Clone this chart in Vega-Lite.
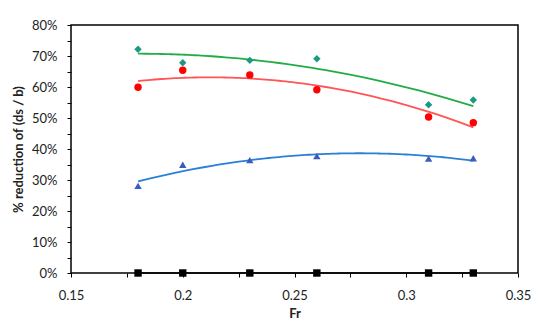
{
  "$schema": "https://vega.github.io/schema/vega-lite/v6.json",
  "autosize": {"type": "fit", "contains": "padding"},
  "width": 552,
  "height": 326,
  "padding": {"left": 12, "top": 19, "right": 21, "bottom": 6},
  "background": "white",
  "config": {
    "font": "Lato",
    "view": {"stroke": "black", "strokeWidth": 1.5},
    "axis": {
      "domain": false,
      "grid": false,
      "ticks": true,
      "labelFont": "Lato",
      "labelFontSize": 13,
      "labelColor": "#222",
      "tickColor": "black",
      "tickWidth": 1,
      "titleFont": "Lato",
      "titleFontSize": 13,
      "titleFontWeight": "bold",
      "titleColor": "#222"
    },
    "legend": {"labelFont": "Lato", "labelFontSize": 13, "labelColor": "#222"}
  },
  "data": {
    "values": [
      {"series": "without collar", "Fr": 0.18, "value": 0},
      {"series": "without collar", "Fr": 0.2, "value": 0},
      {"series": "without collar", "Fr": 0.23, "value": 0},
      {"series": "without collar", "Fr": 0.26, "value": 0},
      {"series": "without collar", "Fr": 0.31, "value": 0},
      {"series": "without collar", "Fr": 0.33, "value": 0},
      {"series": "sloped hexagonal", "Fr": 0.18, "value": 0.599},
      {"series": "sloped hexagonal", "Fr": 0.2, "value": 0.654},
      {"series": "sloped hexagonal", "Fr": 0.23, "value": 0.639},
      {"series": "sloped hexagonal", "Fr": 0.26, "value": 0.591},
      {"series": "sloped hexagonal", "Fr": 0.31, "value": 0.503},
      {"series": "sloped hexagonal", "Fr": 0.33, "value": 0.485},
      {"series": "sloped with holes hexagonal", "Fr": 0.18, "value": 0.281},
      {"series": "sloped with holes hexagonal", "Fr": 0.2, "value": 0.349},
      {"series": "sloped with holes hexagonal", "Fr": 0.23, "value": 0.364},
      {"series": "sloped with holes hexagonal", "Fr": 0.26, "value": 0.377},
      {"series": "sloped with holes hexagonal", "Fr": 0.31, "value": 0.369},
      {"series": "sloped with holes hexagonal", "Fr": 0.33, "value": 0.37},
      {"series": "sloped with ribs hexagonal", "Fr": 0.18, "value": 0.722},
      {"series": "sloped with ribs hexagonal", "Fr": 0.2, "value": 0.678},
      {"series": "sloped with ribs hexagonal", "Fr": 0.23, "value": 0.686},
      {"series": "sloped with ribs hexagonal", "Fr": 0.26, "value": 0.691},
      {"series": "sloped with ribs hexagonal", "Fr": 0.31, "value": 0.543},
      {"series": "sloped with ribs hexagonal", "Fr": 0.33, "value": 0.558}
    ]
  },
  "encoding": {
    "x": {
      "field": "Fr", "type": "quantitative",
      "scale": {"domain": [0.15, 0.35], "nice": false, "zero": false},
      "axis": {
        "title": "Fr",
        "values": [0.15, 0.175, 0.2, 0.225, 0.25, 0.275, 0.3, 0.325, 0.35],
        "labelExpr": "abs(datum.value*20 - round(datum.value*20)) < 0.01 ? format(datum.value, '.2~f') : ''",
        "labelOverlap": false,
        "labelFlush": false,
        "tickSize": 4,
        "labelPadding": 12,
        "titlePadding": 5
      }
    },
    "y": {
      "field": "value", "type": "quantitative",
      "scale": {"domain": [0, 0.8], "nice": false},
      "axis": {
        "title": "% reduction of (ds / b)",
        "values": [0, 0.05, 0.1, 0.15, 0.2, 0.25, 0.3, 0.35, 0.4, 0.45, 0.5, 0.55, 0.6, 0.65, 0.7, 0.75, 0.8],
        "labelExpr": "abs(datum.value*10 - round(datum.value*10)) < 0.01 ? format(datum.value, '.0%') : ''",
        "labelOverlap": false,
        "tickSize": 4,
        "labelPadding": 10,
        "titlePadding": 6
      }
    }
  },
  "layer": [
    {
      "transform": [{"filter": "datum.series === 'without collar'"}],
      "mark": {"type": "line", "strokeWidth": 1.5, "stroke": "#000000"}
    },
    {
      "transform": [
        {"filter": "datum.series === 'sloped hexagonal'"},
        {"regression": "value", "on": "Fr", "method": "poly", "order": 2, "extent": [0.18, 0.33]}
      ],
      "mark": {"type": "line", "strokeWidth": 1.8, "stroke": "#ff5555"}
    },
    {
      "transform": [
        {"filter": "datum.series === 'sloped with holes hexagonal'"},
        {"regression": "value", "on": "Fr", "method": "poly", "order": 2, "extent": [0.18, 0.33]}
      ],
      "mark": {"type": "line", "strokeWidth": 1.8, "stroke": "#2a7fd6"}
    },
    {
      "transform": [
        {"filter": "datum.series === 'sloped with ribs hexagonal'"},
        {"regression": "value", "on": "Fr", "method": "poly", "order": 2, "extent": [0.18, 0.33]}
      ],
      "mark": {"type": "line", "strokeWidth": 1.8, "stroke": "#22ad44"}
    },
    {
      "mark": {"type": "point", "filled": true, "size": 55, "opacity": 1},
      "encoding": {
        "shape": {
          "field": "series", "type": "nominal",
          "scale": {
            "domain": ["without collar", "sloped hexagonal", "sloped with holes hexagonal", "sloped with ribs hexagonal"],
            "range": ["square", "circle", "triangle-up", "diamond"]
          },
          "legend": null
        },
        "fill": {
          "field": "series", "type": "nominal",
          "scale": {
            "domain": ["without collar", "sloped hexagonal", "sloped with holes hexagonal", "sloped with ribs hexagonal"],
            "range": ["#000000", "#ff0000", "#3a5cc0", "#1a9a80"]
          },
          "legend": {
            "title": null,
            "orient": "none",
            "legendX": 54,
            "legendY": 195,
            "padding": 0,
            "columns": 2,
            "columnPadding": 23,
            "rowPadding": 11,
            "symbolSize": 50,
            "labelOffset": 12,
            "labelLimit": 300,
            "encode": {
              "symbols": {
                "update": {
                  "shape": {"signal": "datum.value === 'without collar' ? 'M-1,0H1M-0.24,-0.24H0.24V0.24H-0.24Z' : datum.value === 'sloped hexagonal' ? 'circle' : datum.value === 'sloped with holes hexagonal' ? 'triangle-up' : 'diamond'"},
                  "size": {"signal": "datum.value === 'without collar' ? 625 : 50"},
                  "stroke": {"signal": "datum.value === 'without collar' ? 'black' : 'transparent'"},
                  "strokeWidth": {"value": 1.5}
                }
              }
            }
          }
        }
      }
    }
  ]
}
